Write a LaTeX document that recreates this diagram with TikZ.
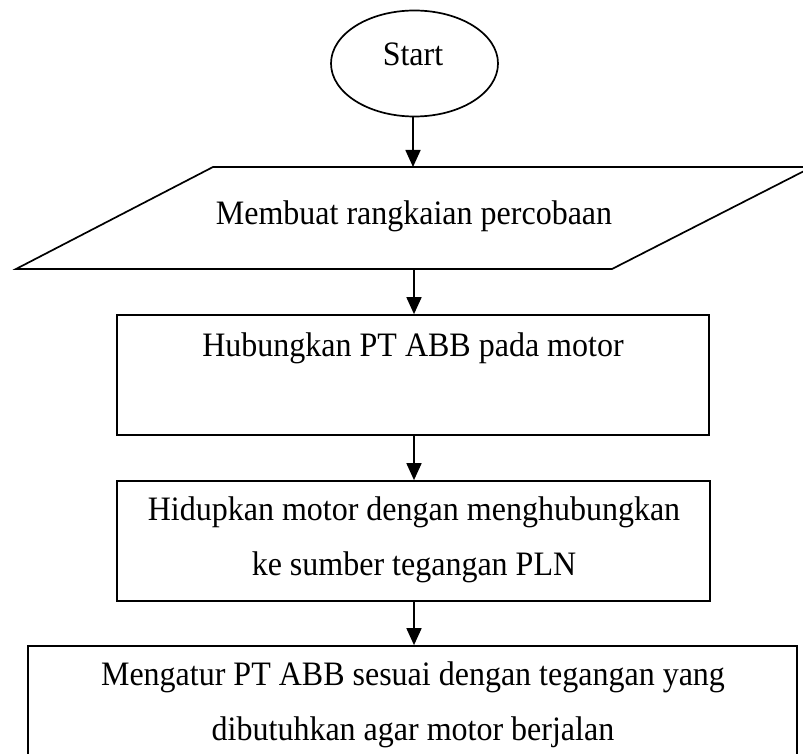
\documentclass[tikz,border=0pt]{standalone}
\usepackage{fontspec}
\usepackage{graphicx}
\setmainfont{Liberation Serif}
\usetikzlibrary{shapes.geometric,arrows.meta}
\newcommand\stx[1]{\scalebox{1}[1.07]{\begin{tabular}[t]{@{}c@{}}#1\end{tabular}}}
\tikzset{
  shapeline/.style={draw=black,line width=1.7pt},
  startnode/.style={shapeline,ellipse,minimum width=167pt,minimum height=106pt,inner sep=0pt},
  boxnode/.style={shapeline,rectangle,inner sep=0pt},
  txt/.style={font=\fontsize{32}{52.3}\selectfont,inner sep=0pt,anchor=base},
  flow/.style={line width=1.7pt,-{Triangle[width=15pt,length=17pt]}}
}
\begin{document}
\begin{tikzpicture}[x=1pt,y=-1pt]
\clip (0,0) rectangle (803,754);
\fill[white] (0,0) rectangle (803,754);
% Start
\node[startnode] (start) at (414.5,63.5) {};
\node[txt] (tstart) at (413,66) {\stx{Start}};
% parallelogram
\coordinate (ptl) at (213,167);
\coordinate (ptr) at (812,167);
\coordinate (pbr) at (612,269);
\coordinate (pbl) at (16,269);
\coordinate (ptop) at (413,167);
\coordinate (pbot) at (414,269);
\draw[shapeline,line join=miter] (ptl) -- (ptr) -- (pbr) -- (pbl) -- cycle;
\node[txt] (para) at (414,225) {\stx{Membuat rangkaian percobaan}};
% box 2
\node[boxnode,minimum width=592pt,minimum height=120pt] (b2) at (413,375) {};
\node[txt] (t2) at (413,356) {\stx{Hubungkan PT ABB pada motor}};
% box 3
\node[boxnode,minimum width=593pt,minimum height=120pt] (b3) at (413.5,541) {};
\node[txt] (t3) at (414,520) {\stx{Hidupkan motor dengan menghubungkan\\ke sumber tegangan PLN}};
% box 4
\node[boxnode,minimum width=769pt,minimum height=130pt] (b4) at (412.5,711) {};
\node[txt] (t4) at (413,685) {\stx{Mengatur PT ABB sesuai dengan tegangan yang\\dibutuhkan agar motor berjalan}};
% arrows
\draw[flow] (start.south -| ptop) -- (ptop);
\draw[flow] (pbot) -- (pbot |- b2.north);
\draw[flow] (b2.south -| pbot) -- (pbot |- b3.north);
\draw[flow] (b3.south -| pbot) -- (pbot |- b4.north);
\end{tikzpicture}
\end{document}
